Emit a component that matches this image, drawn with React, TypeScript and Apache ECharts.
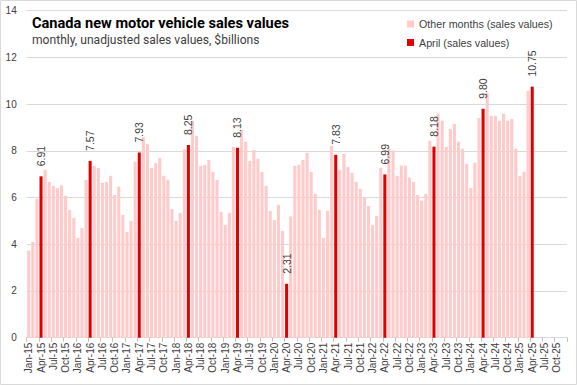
import React, { useEffect, useRef } from "react";
import * as echarts from "echarts";

const monthNames = ["Jan", "Feb", "Mar", "Apr", "May", "Jun", "Jul", "Aug", "Sep", "Oct", "Nov", "Dec"];
const yearLabels = ["15", "16", "17", "18", "19", "20", "21", "22", "23", "24", "25"];

// monthly, unadjusted sales values, $billions (Jan..Dec)
const v2015 = [3.73, 4.10, 5.94, 6.91, 7.19, 6.67, 6.50, 6.41, 6.53, 6.07, 5.47, 5.13];
const v2016 = [4.27, 4.69, 6.76, 7.57, 7.36, 7.27, 6.63, 6.67, 6.93, 6.11, 6.47, 5.26];
const v2017 = [4.53, 5.00, 7.53, 7.93, 8.59, 8.30, 7.27, 7.47, 7.70, 6.93, 6.76, 5.51];
const v2018 = [5.00, 5.34, 8.06, 8.25, 9.29, 8.64, 7.36, 7.40, 7.61, 7.10, 6.76, 5.39];
const v2019 = [4.83, 5.34, 8.17, 8.13, 8.90, 8.39, 7.57, 8.04, 7.66, 7.10, 6.50, 5.43];
const v2020 = [5.04, 5.69, 4.57, 2.31, 5.19, 7.36, 7.40, 7.61, 7.91, 7.10, 6.16, 5.47];
const v2021 = [4.27, 5.43, 8.21, 7.83, 7.19, 7.87, 7.31, 7.06, 6.67, 6.37, 6.03, 5.64];
const v2022 = [4.83, 5.21, 7.27, 6.99, 8.09, 8.02, 6.93, 7.37, 7.37, 6.86, 6.67, 6.11];
const v2023 = [5.87, 6.16, 8.43, 8.18, 9.59, 9.29, 8.17, 8.94, 9.16, 8.39, 8.09, 7.44];
const v2024 = [6.41, 7.49, 9.41, 9.80, 10.49, 9.50, 9.50, 9.29, 9.59, 9.29, 9.37, 8.09];
const v2025 = [6.93, 7.10, 10.57, 10.75, null, null, null, null, null, null, null, null];

const yearValues: (number | null)[][] = [v2015, v2016, v2017, v2018, v2019, v2020, v2021, v2022, v2023, v2024, v2025];

const categories: string[] = [];
yearLabels.forEach((y) => monthNames.forEach((m) => categories.push(`${m}-${y}`)));
const allValues: (number | null)[] = ([] as (number | null)[]).concat(...yearValues);

const aprilIndex = 3;
const otherMonths = allValues.map((v, i) => (i % 12 === aprilIndex ? null : v));
const aprilMonths = allValues.map((v, i) => (i % 12 === aprilIndex ? v : null));

const titleText = "Canada new motor vehicle sales values";
const subtitleText = "monthly, unadjusted sales values, $billions";
const otherName = "Other months (sales values)";
const aprilName = "April (sales values)";

const PINK = "#ffcaca";
const RED = "#e00000";
const TXT = "#404040";
const AX_FONT = "'Liberation Sans', Arial, sans-serif";

export default function App() {
  const ref = useRef<HTMLDivElement>(null);
  useEffect(() => {
    if (!ref.current) return;
    const chart = echarts.init(ref.current, null, { renderer: "svg" });
    chart.setOption({
      animation: false,
      backgroundColor: "#ffffff",
      title: [
        {
          text: titleText,
          left: 32,
          top: 15,
          padding: 0,
          textStyle: { fontFamily: "Roboto, sans-serif", fontWeight: "bold", fontSize: 14.6, color: "#000000" },
        },
        {
          text: subtitleText,
          left: 32,
          top: 33.5,
          padding: 0,
          textStyle: { fontFamily: "Roboto, sans-serif", fontWeight: "normal", fontSize: 12.1, color: TXT },
        },
      ],
      legend: {
        orient: "vertical",
        left: 407,
        top: 18.5,
        padding: 0,
        itemWidth: 7,
        itemHeight: 7,
        itemGap: 7.5,
        icon: "rect",
        data: [otherName, aprilName],
        textStyle: { fontFamily: AX_FONT, fontSize: 10.7, color: TXT },
      },
      graphic: [
        {
          type: "rect",
          shape: { x: 0.5, y: 0.5, width: 576, height: 384 },
          style: { fill: "none", stroke: "#d9d9d9", lineWidth: 1 },
          silent: true,
        },
      ],
      grid: { left: 26.7, right: 10, top: 10.7, bottom: 47.3, containLabel: false },
      xAxis: {
        type: "category",
        data: categories,
        boundaryGap: true,
        axisLine: { lineStyle: { color: "#d9d9d9" } },
        axisTick: { show: true, interval: 2, length: 4, lineStyle: { color: "#bfbfbf" } },
        axisLabel: { interval: 2, rotate: 90, fontSize: 10, color: TXT, margin: 5, fontFamily: AX_FONT },
      },
      yAxis: {
        type: "value",
        min: 0,
        max: 14,
        interval: 2,
        axisLine: { show: false },
        axisTick: { show: false },
        splitLine: { lineStyle: { color: "#d9d9d9" } },
        axisLabel: { fontSize: 10, color: TXT, margin: 10, fontFamily: AX_FONT },
      },
      series: [
        {
          name: otherName,
          type: "bar",
          data: otherMonths,
          barWidth: "75%",
          barGap: "-100%",
          itemStyle: { color: PINK },
        },
        {
          name: aprilName,
          type: "bar",
          data: aprilMonths,
          barWidth: "75%",
          barGap: "-100%",
          itemStyle: { color: RED },
          label: {
            show: true,
            position: "top",
            rotate: 90,
            align: "left",
            verticalAlign: "middle",
            distance: 10,
            fontSize: 10.5,
            color: TXT,
            fontFamily: AX_FONT,
            formatter: (p: any) => (p.value == null ? "" : Number(p.value).toFixed(2)),
          },
        },
      ],
    });
    return () => chart.dispose();
  }, []);
  return <div ref={ref} style={{ position: "absolute", left: 0, top: 0, width: 577, height: 385 }} />;
}
